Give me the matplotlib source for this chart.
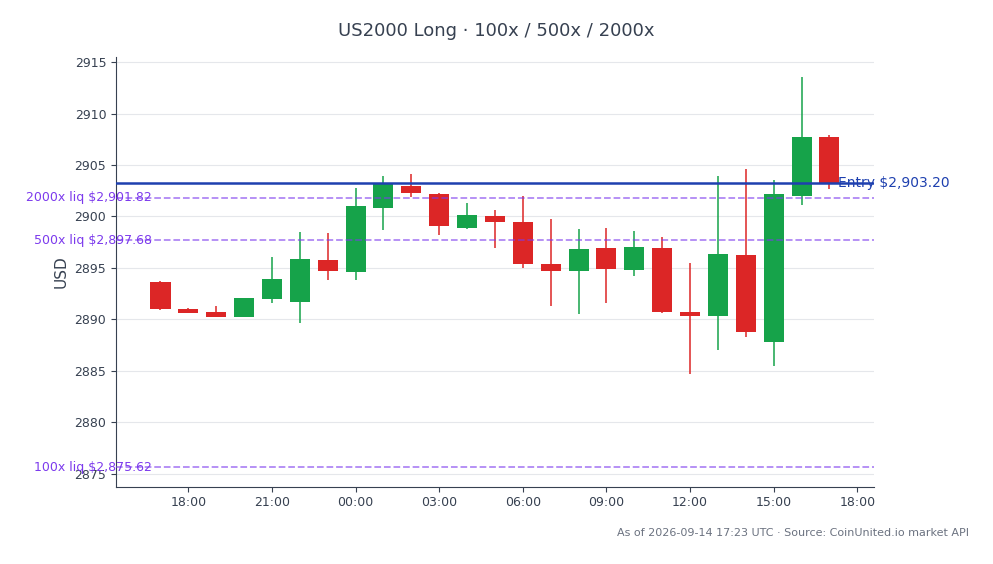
import numpy as np
import pandas as pd
import matplotlib
matplotlib.use("Agg")
import matplotlib.pyplot as plt
import matplotlib.dates as mdates

# -----------------------------
# Data (hourly candles)
# -----------------------------
start = "2026-09-13 17:00"
opens = [2893.60, 2891.00, 2890.67, 2890.21, 2891.96, 2891.67, 2895.73, 2894.59, 2900.82, 2903.00,
         2902.15, 2898.87, 2900.01, 2899.43, 2895.41, 2894.73, 2896.90, 2894.79, 2896.90, 2890.67,
         2890.31, 2896.22, 2887.78, 2901.99, 2907.70]
highs = [2893.70, 2891.05, 2891.28, 2892.10, 2896.02, 2898.45, 2898.39, 2902.74, 2903.93, 2904.10,
         2902.28, 2901.31, 2900.60, 2901.96, 2899.72, 2898.75, 2898.84, 2898.55, 2898.00, 2895.47,
         2903.90, 2904.59, 2903.52, 2913.57, 2907.90]
lows = [2890.90, 2890.60, 2890.20, 2890.20, 2891.57, 2889.63, 2893.81, 2893.81, 2898.65, 2901.89,
        2898.19, 2898.75, 2896.93, 2894.98, 2891.28, 2890.50, 2891.57, 2894.20, 2890.60, 2884.64,
        2887.00, 2888.27, 2885.44, 2901.11, 2902.67]
closes = [2891.00, 2890.65, 2890.21, 2892.06, 2893.88, 2895.83, 2894.73, 2900.99, 2903.13, 2902.28,
          2899.07, 2900.11, 2899.46, 2895.37, 2894.73, 2896.80, 2894.88, 2897.00, 2890.70, 2890.31,
          2896.31, 2888.75, 2902.15, 2907.70, 2903.16]

entry = 2903.20
liq_labels = ["100x", "500x", "2000x"]
liq_prices = [2875.62, 2897.68, 2901.82]

UP = "#16a34a"
DOWN = "#dc2626"
INK = "#374151"
LIQ = "#7c3aed"
ENTRY = "#1e40af"

times = pd.date_range(start, periods=len(opens), freq="h")
x = mdates.date2num(times.to_pydatetime())
o = np.array(opens)
h = np.array(highs)
l = np.array(lows)
c = np.array(closes)
colors = [UP if cc >= oo else DOWN for oo, cc in zip(o, c)]

# -----------------------------
# Plot
# -----------------------------
fig = plt.figure(figsize=(9.93, 5.64), dpi=100)
ax = fig.add_axes([0.1168, 0.1371, 0.7633, 0.7613])

hour = 1 / 24
ax.vlines(x, l, h, colors=colors, linewidth=1.1, zorder=2)
ax.bar(x, np.abs(c - o), bottom=np.minimum(o, c), width=0.72 * hour,
       color=colors, zorder=3)

for lab, p in zip(liq_labels, liq_prices):
    ax.axhline(p, color=LIQ, alpha=0.6, linestyle="--", linewidth=1.3, zorder=4)
    ax.text(x[0] - 0.3 * hour, p, f"{lab} liq ${p:,.2f}", color=LIQ,
            fontsize=9, ha="right", va="center", zorder=5)

ax.axhline(entry, color=ENTRY, linewidth=1.8, zorder=4)
ax.text(x[-1] + 0.3 * hour, entry, f"Entry ${entry:,.2f}", color=ENTRY,
        fontsize=10, ha="left", va="center", zorder=5)

lo = min(l.min(), min(liq_prices))
hi = max(h.max(), entry)
pad = 0.05 * (hi - lo)
ax.set_ylim(lo - pad, hi + pad)

ax.xaxis.set_major_locator(mdates.HourLocator(byhour=range(0, 24, 3)))
ax.xaxis.set_major_formatter(mdates.DateFormatter("%H:%M"))

ax.set_ylabel("USD", fontsize=11, color=INK)
ax.grid(axis="y", color="#e5e7eb", linewidth=0.8)
ax.set_axisbelow(True)
for s in ["top", "right"]:
    ax.spines[s].set_visible(False)
for s in ["left", "bottom"]:
    ax.spines[s].set_color(INK)
ax.tick_params(colors=INK, labelsize=9)

fig.text(0.5, 1 - 31 / 564, "US2000 Long · 100x / 500x / 2000x",
         ha="center", va="center", fontsize=13, color=INK)
fig.text(969 / 993, 1 - 533 / 564,
         "As of 2026-09-14 17:23 UTC · Source: CoinUnited.io market API",
         ha="right", va="center", fontsize=8, color="#6b7280")

fig.savefig("out.png", dpi=100)
